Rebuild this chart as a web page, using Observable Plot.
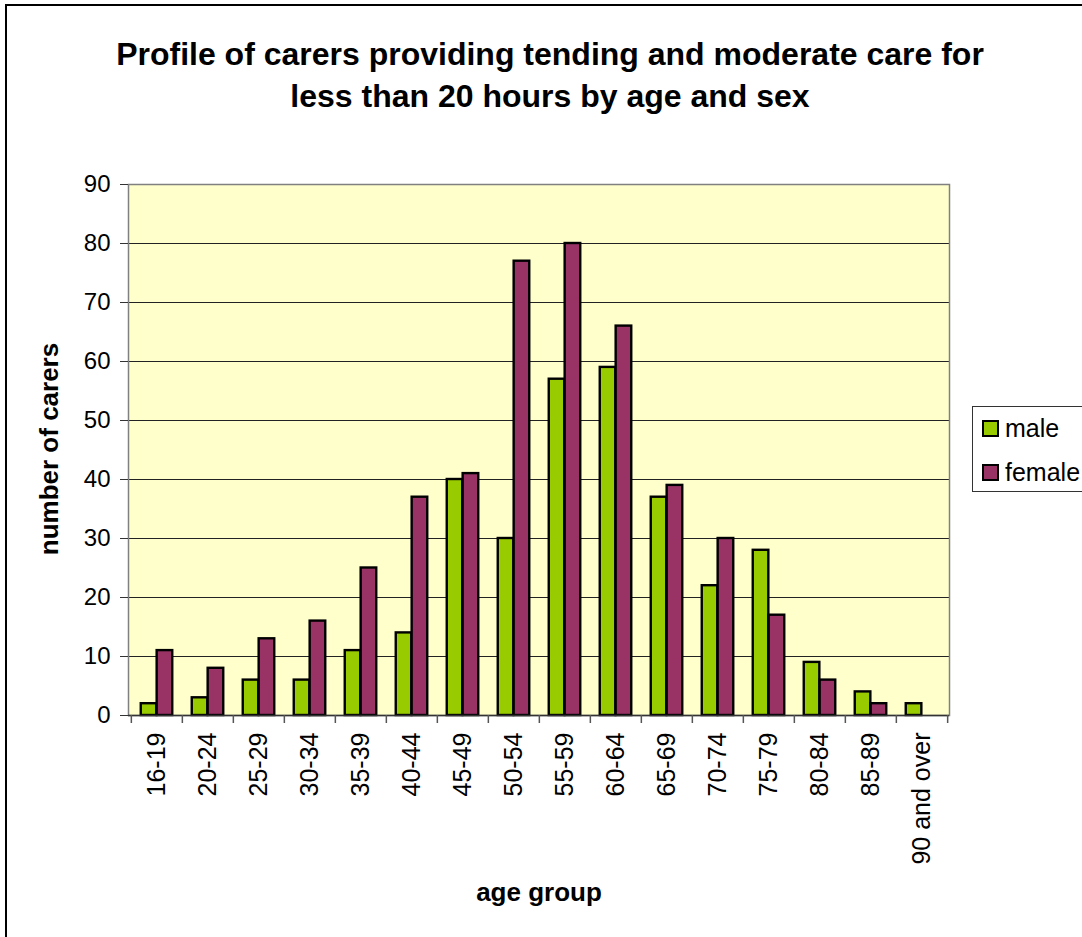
<!DOCTYPE html>
<html>
<head>
<meta charset="utf-8">
<script src="https://cdn.jsdelivr.net/npm/d3@7"></script>
<script src="https://cdn.jsdelivr.net/npm/@observablehq/plot@0.6"></script>
<style>
  html, body { margin: 0; padding: 0; background: #fff; }
  #wrap { position: relative; width: 1082px; height: 937px; overflow: hidden; font-family: "Liberation Sans", Arial, sans-serif; }
  #border { position: absolute; left: 5px; top: 4px; width: 1200px; height: 1100px; border: 2px solid #000; box-sizing: border-box; }
  #chart { position: absolute; left: 0; top: 0; }
  .title { position: absolute; left: 0; width: 1082px; text-align: center; font-weight: bold; font-size: 32px; color: #000; white-space: nowrap; }
  .ylab { position: absolute; font-weight: bold; font-size: 26px; white-space: nowrap; transform: translate(-50%, -50%) rotate(-90deg); }
  .xlab { position: absolute; font-weight: bold; font-size: 26px; white-space: nowrap; transform: translateX(-50%); }
  #legend { position: absolute; left: 972px; top: 406px; width: 140px; height: 86px; border: 1px solid #333; box-sizing: border-box; background: #fff; }
  .li { position: absolute; left: 9px; font-size: 25px; line-height: 25px; white-space: nowrap; }
  .sw { display: inline-block; width: 13px; height: 13px; border: 2px solid #000; margin-right: 6px; vertical-align: 0px; }
</style>
</head>
<body>
<div id="wrap">
  <div id="border"></div>
  <div id="chart"></div>
  <div class="title" style="top:36px; left:9px;">Profile of carers providing tending and moderate care for</div>
  <div class="title" style="top:78px; left:9px;">less than 20 hours by age and sex</div>
  <div class="ylab" style="left:49px; top:449px;">number of carers</div>
  <div class="xlab" style="left:539px; top:877px;">age group</div>
  <div id="legend"></div>
</div>
<script>
const ages = ["16-19","20-24","25-29","30-34","35-39","40-44","45-49","50-54","55-59","60-64","65-69","70-74","75-79","80-84","85-89","90 and over"];
const male = [2,3,6,6,11,14,40,30,57,59,37,22,28,9,4,2];
const female = [11,8,13,16,25,37,41,77,80,66,39,30,17,6,2,0];
const yTicks = [0,10,20,30,40,50,60,70,80,90];
const seriesNames = ["male","female"];
const seriesColors = ["#99CC00","#993366"];

const rows = ages.map((a, i) => ({age: a, male: male[i], female: female[i]}));

const W = 1082, H = 937;
const mL = 128, mR = 133, mT = 184, mB = 222;
const bw = (W - mL - mR) / ages.length;

const chart = Plot.plot({
  width: W, height: H,
  marginLeft: mL, marginRight: mR, marginTop: mT, marginBottom: mB,
  style: {fontFamily: "Liberation Sans, Arial, sans-serif", background: "transparent", color: "#000"},
  x: {domain: ages, padding: 0, label: null},
  y: {domain: [0, 90], label: null},
  marks: [
    Plot.frame({fill: "#FFFFCC", stroke: null}),
    Plot.gridY(yTicks, {stroke: "#222", strokeOpacity: 1, strokeWidth: 1.2}),
    Plot.frame({stroke: "#808080", strokeWidth: 1.5}),
    Plot.barY(rows, {x: "age", y: "male", fill: seriesColors[0], stroke: "#000", strokeWidth: 2.4, insetLeft: bw * 0.19, insetRight: bw / 2}),
    Plot.barY(rows, {x: "age", y: "female", fill: seriesColors[1], stroke: "#000", strokeWidth: 2.4, insetLeft: bw / 2, insetRight: bw * 0.19}),
    Plot.ruleY([0], {stroke: "#333", strokeWidth: 1.5}),
    Plot.ruleX(ages, {x: d => d, dx: -bw / 2, y1: 0, y2: 0, insetBottom: -8, stroke: "#555", strokeWidth: 1.5}),
    Plot.ruleX([ages[ages.length - 1]], {x: d => d, dx: bw / 2, y1: 0, y2: 0, insetBottom: -8, stroke: "#555", strokeWidth: 1.5}),
    Plot.axisY({ticks: yTicks, tickSize: 8, tickPadding: 10, fontSize: 24, stroke: "#333"}),
    Plot.axisX({tickSize: 0, tickRotate: -90, tickPadding: 17, fontSize: 25})
  ]
});
document.getElementById("chart").appendChild(chart);

const legend = document.getElementById("legend");
seriesNames.forEach((n, i) => {
  const d = document.createElement("div");
  d.className = "li";
  d.style.top = (9 + i * 44) + "px";
  d.innerHTML = `<span class="sw" style="background:${seriesColors[i]}"></span>${n}`;
  legend.appendChild(d);
});
</script>
</body>
</html>
